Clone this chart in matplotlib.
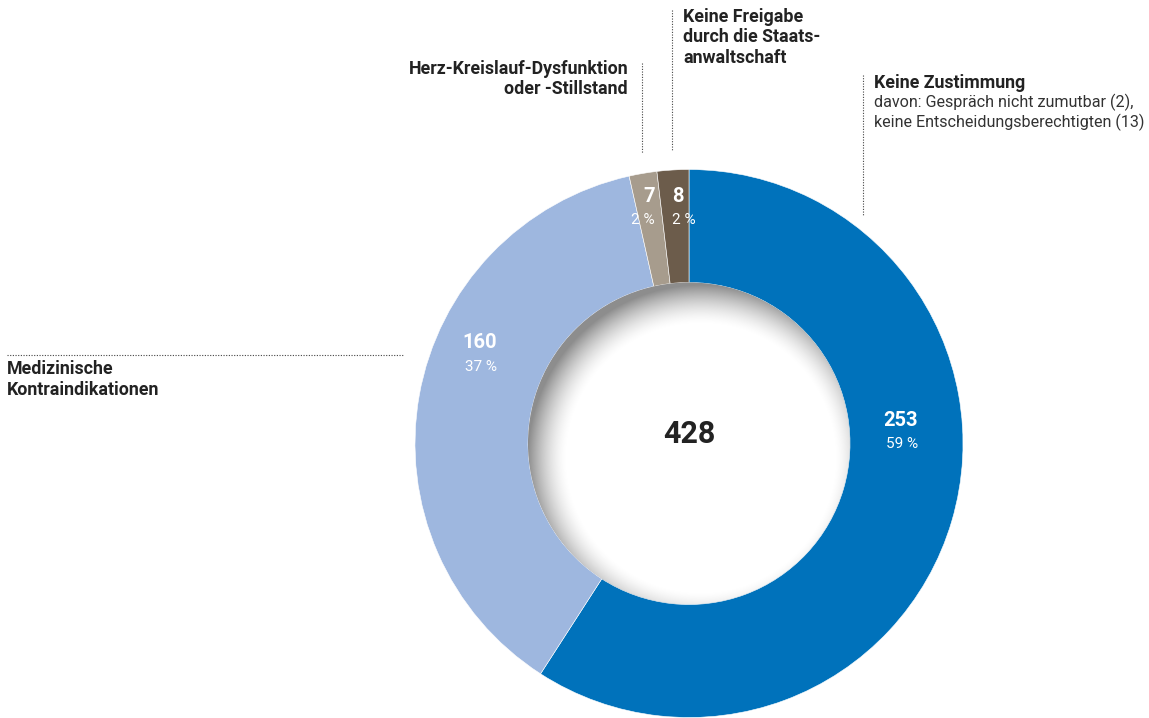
import matplotlib
matplotlib.use('Agg')
import matplotlib.pyplot as plt
import numpy as np
from matplotlib.patches import Circle

# data
categories = ['Keine Zustimmung', 'Medizinische Kontraindikationen',
              'Herz-Kreislauf-Dysfunktion oder -Stillstand',
              'Keine Freigabe durch die Staatsanwaltschaft']
values = [253, 160, 7, 8]
percents = ['59 %', '37 %', '2 %', '2 %']
colors = ['#0072BB', '#9EB7DF', '#A79C8D', '#6C5C4B']
total = sum(values)

plt.rcParams['font.family'] = ['Roboto', 'DejaVu Sans']

W, H = 1149, 718
fig = plt.figure(figsize=(W / 100, H / 100), dpi=100)
ax = fig.add_axes([0, 0, 1, 1])

cx, cy = 689, 443.5
r_out, r_in = 274, 161

# donut, clockwise from 12 o'clock (y axis is inverted, so counterclock=True here)
ax.pie(values, colors=colors, center=(cx, cy), radius=r_out, startangle=-90,
       counterclock=True, wedgeprops=dict(width=r_out - r_in, linewidth=0.4, edgecolor='white'))

# inner shadow of the hole
n = 2 * r_in
yy, xx = np.mgrid[0:n, 0:n] + 0.5 - r_in
d = np.hypot(xx - 12, yy - 15)
t = np.clip((d - (r_in - 28)) / 40.0, 0, 1)
rgba = np.zeros((n, n, 4))
rgba[..., 3] = 0.45 * t ** 1.6
im = ax.imshow(rgba, extent=(cx - r_in, cx + r_in, cy + r_in, cy - r_in), zorder=3, interpolation='bilinear')
im.set_clip_path(Circle((cx, cy), r_in, transform=ax.transData))

ax.set_xlim(0, W)
ax.set_ylim(H, 0)
ax.set_aspect('equal')
ax.axis('off')

# total in the middle
ax.text(cx, 434, str(total), ha='center', va='center', fontsize=22, fontweight='bold', color='#222222', zorder=5)

# value labels on the ring
lab_pos = [(918, 420, 444, 'right'), (497, 343, 367, 'right'), (655, 196, 219.5, 'right'), (672, 196, 219.5, 'left')]
for v, p, (x, y1, y2, ha) in zip(values, percents, lab_pos):
    ax.text(x, y1, str(v), ha=ha, va='center', fontsize=14.5, fontweight='bold', color='white', zorder=5)
    ax.text(x, y2, p, ha=ha, va='center', fontsize=11, fontweight='normal', color='white', zorder=5)

dot = dict(color='#444444', linestyle=(0, (1, 1.4)), linewidth=0.8)
bold = dict(fontsize=12.8, fontweight='bold', color='#222222', linespacing=1.17)

# Keine Zustimmung
ax.plot([862.5, 862.5], [75, 215], **dot)
ax.text(874, 83, 'Keine Zustimmung', ha='left', va='center', **bold)
ax.text(874, 112, 'davon: Gespräch nicht zumutbar (2),\nkeine Entscheidungsberechtigten (13)',
        ha='left', va='center', fontsize=11.6, color='#333333', linespacing=1.2)

# Keine Freigabe
ax.plot([671.7, 671.7], [10, 150], **dot)
ax.text(683, 37.5, 'Keine Freigabe\ndurch die Staats-\nanwaltschaft', ha='left', va='center', **bold)

# Herz-Kreislauf
ax.plot([641.7, 641.7], [63, 153], **dot)
ax.text(628, 79, 'Herz-Kreislauf-Dysfunktion\noder -Stillstand', ha='right', va='center', **bold)

# Medizinische Kontraindikationen
ax.plot([7, 404], [355, 355], **dot)
ax.text(7, 379.5, 'Medizinische\nKontraindikationen', ha='left', va='center', **bold)

fig.savefig('out.png', dpi=100)
